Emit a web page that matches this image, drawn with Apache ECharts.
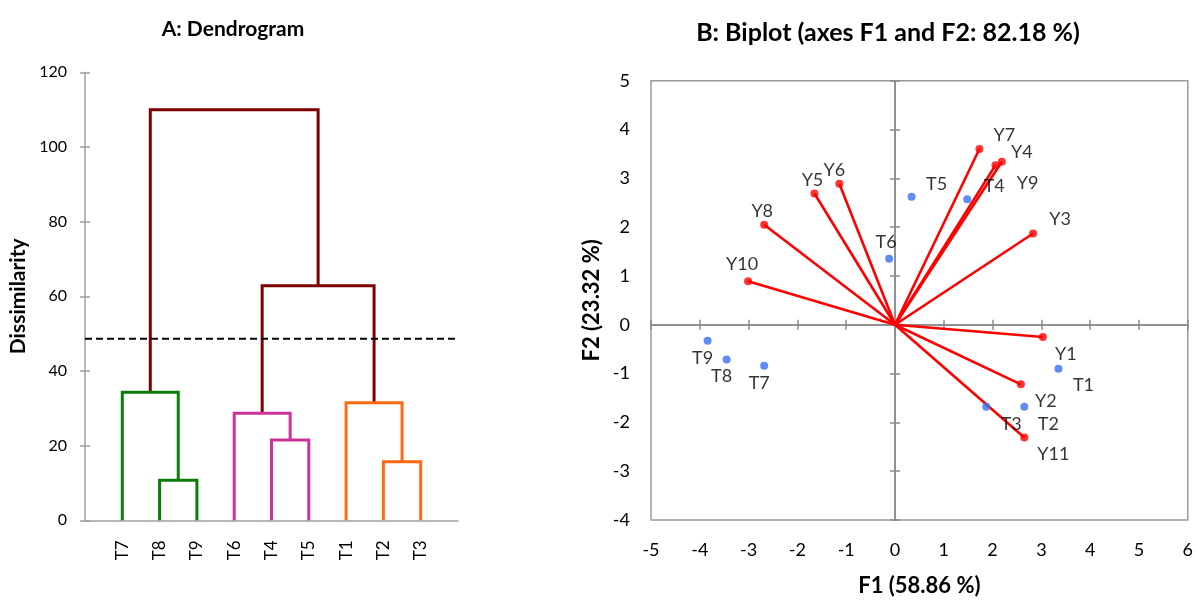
<!DOCTYPE html>
<html>
<head>
<meta charset="utf-8">
<script src="https://cdn.jsdelivr.net/npm/echarts@6/dist/echarts.min.js"></script>
<style>html,body{margin:0;padding:0;background:#fff}#c{width:1196px;height:602px}</style>
</head>
<body>
<div id="c"></div>
<script>
// ---------- Dendrogram data ----------
const leaves = ['T7','T8','T9','T6','T4','T5','T1','T2','T3'];
// merges: node ids 0..8 are leaves, merge k gets id 9+k
const mergeLeft  = [1, 0, 4, 3, 7, 6, 12, 10];
const mergeRight = [2, 9, 5, 11, 8, 13, 14, 15];
const mergeHeight = [10.7, 34.3, 21.5, 28.7, 15.7, 31.5, 62.8, 110];
const mergeGroup = ['C1','C1','C2','C2','C3','C3','root','root'];
const cutLevel = 48.6;
const dendroYTicks = [0, 20, 40, 60, 80, 100, 120];

// ---------- Biplot data ----------
const obsNames = ['T1','T2','T3','T4','T5','T6','T7','T8','T9'];
const obsF1 = [3.35, 2.65, 1.87, 1.48, 0.34, -0.12, -2.68, -3.45, -3.84];
const obsF2 = [-0.90, -1.68, -1.68, 2.57, 2.62, 1.35, -0.84, -0.71, -0.33];
const varNames = ['Y1','Y2','Y3','Y4','Y5','Y6','Y7','Y8','Y9','Y10','Y11'];
const varF1 = [3.03, 2.58, 2.83, 2.19, -1.65, -1.14, 1.73, -2.68, 2.06, -3.01, 2.65];
const varF2 = [-0.25, -1.22, 1.87, 3.34, 2.69, 2.89, 3.60, 2.05, 3.27, 0.89, -2.31];
const f1Ticks = [-5,-4,-3,-2,-1,0,1,2,3,4,5,6];
const f2Ticks = [-4,-3,-2,-1,0,1,2,3,4,5];

// ---------- styles ----------
const groupColor = {C1:'#0b7d0b', C2:'#cc3399', C3:'#ff6a10', root:'#7f0000'};
const FONT = 'Lato, "Open Sans", sans-serif';
const TXT = '#000000';
const AX = '#a0a0a0';
// label offsets (style only) [dx, dy]
const obsLabelOffset = {T1:[25,17],T2:[24,17],T3:[25,17],T4:[27,-13],T5:[25,-13],T6:[-3,-17],T7:[-5,17],T8:[-5,17],T9:[-5,17]};
const varLabelOffset = {Y1:[23,17],Y2:[25,17],Y3:[27,-14],Y4:[20,-10],Y5:[-2,-13],Y6:[-5,-14],Y7:[25,-14],Y8:[-2,-14],Y9:[32,18],Y10:[-6,-17],Y11:[29,17]};

// compute node positions for dendrogram
const nodeX = leaves.map((_, i) => i + 1);
const nodeH = leaves.map(() => 0);
mergeLeft.forEach((l, k) => {
  const r = mergeRight[k];
  nodeX.push((nodeX[l] + nodeX[r]) / 2);
  nodeH.push(mergeHeight[k]);
});
const dendroSeries = mergeLeft.map((l, k) => {
  const r = mergeRight[k], h = mergeHeight[k];
  return {
    type: 'line', xAxisIndex: 0, yAxisIndex: 0, silent: true,
    symbol: 'none', animation: false,
    lineStyle: {color: groupColor[mergeGroup[k]], width: 3, join: 'miter', cap: 'butt'},
    data: [[nodeX[l], nodeH[l]], [nodeX[l], h], [nodeX[r], h], [nodeX[r], nodeH[r]]]
  };
});
dendroSeries.reverse();
dendroSeries.push({
  type: 'line', xAxisIndex: 0, yAxisIndex: 0, symbol: 'none', animation: false, silent: true,
  lineStyle: {color: '#000', width: 2, type: [7, 4]},
  data: [[0, cutLevel], [10, cutLevel]]
});

const dendroAxisLabel = {fontFamily: FONT, fontSize: 16, color: TXT};

const option = {
  animation: false,
  title: [
    {text: 'A: Dendrogram', left: 228, top: 14, textAlign: 'center',
     textStyle: {fontFamily: FONT, fontWeight: 'bold', fontSize: 21, color: TXT}},
    {text: 'B: Biplot (axes F1 and F2: 82.18 %)', left: 883, top: 15, textAlign: 'center',
     textStyle: {fontFamily: FONT, fontWeight: 'bold', fontSize: 25, color: TXT}}
  ],
  grid: [
    {left: 85, width: 373, top: 72.3, height: 448, containLabel: false},
    {left: 651, width: 540, top: 80.7, height: 440, containLabel: false,
     show: true, borderColor: '#9a9a9a', borderWidth: 1.5, backgroundColor: 'transparent'}
  ],
  xAxis: [
    {type: 'value', gridIndex: 0, min: 0, max: 10, interval: 1,
     axisLine: {show: true, lineStyle: {color: AX, width: 1.5}},
     axisTick: {show: false}, splitLine: {show: false},
     axisLabel: Object.assign({}, dendroAxisLabel, {rotate: 90, margin: 20, fontSize: 17,
       formatter: v => (v >= 1 && v <= leaves.length) ? leaves[v - 1] : ''})},
    {type: 'value', gridIndex: 1, min: -5, max: 6, interval: 1, position: 'bottom',
     axisLine: {show: false}, axisTick: {show: false}, splitLine: {show: false},
     axisLabel: {fontFamily: FONT, fontSize: 18, color: TXT, margin: 21, showMinLabel: true, showMaxLabel: true,
       formatter: v => f1Ticks.includes(v) ? String(v) : ''},
     name: 'F1 (58.86 %)', nameLocation: 'middle', nameGap: 55,
     nameTextStyle: {fontFamily: FONT, fontWeight: 'bold', fontSize: 22, color: TXT}},
    {type: 'value', gridIndex: 1, min: -5, max: 6, interval: 1,
     axisLine: {show: true, onZero: true, onZeroAxisIndex: 1, lineStyle: {color: '#8a8a8a', width: 1.5}},
     axisTick: {show: true, inside: false, length: 5, lineStyle: {color: '#8a8a8a', width: 1.5}},
     axisLabel: {show: false}, splitLine: {show: false}},
    {type: 'value', gridIndex: 1, min: -5, max: 6, interval: 1,
     axisLine: {show: true, onZero: true, onZeroAxisIndex: 1, lineStyle: {color: '#8a8a8a', width: 1.5}},
     axisTick: {show: true, inside: true, length: 5, lineStyle: {color: '#8a8a8a', width: 1.5}},
     axisLabel: {show: false}, splitLine: {show: false}}
  ],
  yAxis: [
    {type: 'value', gridIndex: 0, min: 0, max: 120, interval: 20,
     axisLine: {show: true, lineStyle: {color: AX, width: 1.5}},
     axisTick: {show: true, inside: false, length: 5, lineStyle: {color: AX, width: 1.5}},
     splitLine: {show: false},
     axisLabel: Object.assign({}, dendroAxisLabel, {margin: 18,
       formatter: v => dendroYTicks.includes(v) ? String(v) : ''}),
     name: 'Dissimilarity', nameLocation: 'middle', nameGap: 56,
     nameTextStyle: {fontFamily: FONT, fontWeight: 'bold', fontSize: 21, color: TXT}},
    {type: 'value', gridIndex: 1, min: -4, max: 5, interval: 1, position: 'left',
     axisLine: {show: false}, axisTick: {show: false}, splitLine: {show: false},
     axisLabel: {fontFamily: FONT, fontSize: 18, color: TXT, margin: 21,
       formatter: v => f2Ticks.includes(v) ? String(v) : ''},
     name: 'F2 (23.32 %)', nameLocation: 'middle', nameGap: 48,
     nameTextStyle: {fontFamily: FONT, fontWeight: 'bold', fontSize: 22, color: TXT}},
    {type: 'value', gridIndex: 1, min: -4, max: 5, interval: 1,
     axisLine: {show: true, onZero: true, onZeroAxisIndex: 1, lineStyle: {color: '#8a8a8a', width: 1.5}},
     axisTick: {show: true, inside: false, length: 5, lineStyle: {color: '#8a8a8a', width: 1.5}},
     axisLabel: {show: false}, splitLine: {show: false}},
    {type: 'value', gridIndex: 1, min: -4, max: 5, interval: 1,
     axisLine: {show: true, onZero: true, onZeroAxisIndex: 1, lineStyle: {color: '#8a8a8a', width: 1.5}},
     axisTick: {show: true, inside: true, length: 5, lineStyle: {color: '#8a8a8a', width: 1.5}},
     axisLabel: {show: false}, splitLine: {show: false}},
    {type: 'value', gridIndex: 0, min: 0, max: 120, interval: 20, position: 'left',
     axisLine: {show: false},
     axisTick: {show: true, inside: true, length: 5, lineStyle: {color: AX, width: 1.5}},
     axisLabel: {show: false}, splitLine: {show: false}}
  ],
  series: dendroSeries.concat([
    {
      type: 'lines', coordinateSystem: 'cartesian2d', xAxisIndex: 1, yAxisIndex: 1,
      silent: true, animation: false, z: 3,
      lineStyle: {color: '#ff0000', width: 2.6, opacity: 1},
      data: varNames.map((n, i) => ({coords: [[0, 0], [varF1[i], varF2[i]]]}))
    },
    {
      type: 'scatter', xAxisIndex: 1, yAxisIndex: 1, symbol: 'circle', symbolSize: 8, z: 4,
      itemStyle: {color: '#ff0000'},
      label: {show: true, formatter: p => p.data.name, fontFamily: FONT, fontSize: 18, color: TXT, position: 'inside'},
      data: varNames.map((n, i) => ({name: n, value: [varF1[i], varF2[i]],
        label: {offset: varLabelOffset[n]}}))
    },
    {
      type: 'scatter', xAxisIndex: 1, yAxisIndex: 1, symbol: 'circle', symbolSize: 8, z: 5,
      itemStyle: {color: '#3a6ff2'},
      label: {show: true, formatter: p => p.data.name, fontFamily: FONT, fontSize: 18, color: TXT, position: 'inside'},
      data: obsNames.map((n, i) => ({name: n, value: [obsF1[i], obsF2[i]],
        label: {offset: obsLabelOffset[n]}}))
    }
  ])
};

const chart = echarts.init(document.getElementById('c'), null, {renderer: 'canvas'});
chart.setOption(option);
</script>
</body>
</html>
